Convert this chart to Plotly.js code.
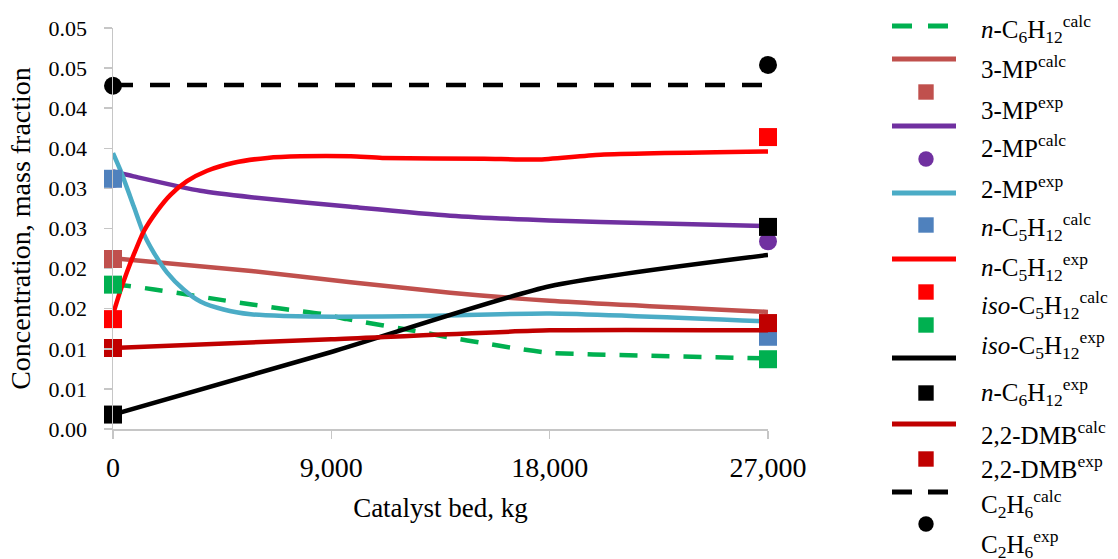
<!DOCTYPE html>
<html>
<head>
<meta charset="utf-8">
<script src="https://cdn.plot.ly/plotly-3.0.1.min.js"></script>
<style>
html,body{margin:0;padding:0;background:#fff;}
#chart{width:1118px;height:559px;}
</style>
</head>
<body>
<div id="chart"></div>
<script>
// ---------------- DATA ----------------
// n-C6H12 calc (green dashed)
const nC6calcX = [0, 470, 1700, 3000, 4450, 5800, 7200, 8700, 9650, 12500, 13900, 15300, 16700, 18000, 19800, 27000];
const nC6calcY = [0.0179, 0.0179, 0.0174, 0.0168, 0.0161, 0.0155, 0.0149, 0.0143, 0.0137, 0.0122, 0.0114, 0.0107, 0.0100, 0.0095, 0.0093, 0.0088];
// 3-MP calc (brown line)
const mp3calcX = [0, 5700, 9800, 13900, 18000, 27000];
const mp3calcY = [0.0213, 0.0197, 0.0183, 0.0170, 0.0160, 0.0146];
// 2-MP calc (purple line)
const mp2calcX = [0, 850, 3600, 5700, 9800, 13900, 18000, 20100, 27000];
const mp2calcY = [0.0321, 0.0315, 0.0297, 0.0289, 0.0277, 0.0266, 0.0260, 0.0258, 0.0253];
// cyan line
const cyanX = [0, 300, 850, 1260, 1680, 2230, 2910, 3600, 4560, 5680, 7040, 9100, 13000, 18000, 27000];
const cyanY = [0.0344, 0.0323, 0.0278, 0.0244, 0.0220, 0.0195, 0.0174, 0.0159, 0.0149, 0.0143, 0.0141, 0.0140, 0.0141, 0.0144, 0.0134];
// red line
const redX = [0, 300, 580, 850, 1260, 1820, 2370, 3050, 3880, 4980, 6360, 7730, 9800, 11100, 15300, 17500, 20100, 27000];
const redY = [0.0143, 0.0172, 0.0196, 0.0217, 0.0246, 0.0272, 0.0292, 0.0309, 0.0322, 0.0332, 0.0338, 0.0340, 0.0340, 0.0338, 0.0337, 0.0336, 0.0342, 0.0346];
// black line
const blackX = [0, 9000, 18000, 27000];
const blackY = [0.0018, 0.0096, 0.0178, 0.0217];
// 2,2-DMB calc (dark red line)
const dmbcalcX = [0, 9000, 18000, 27000];
const dmbcalcY = [0.0101, 0.0112, 0.0123, 0.0123];
// C2H6 calc (black dashed)
const c2calcX = [0, 27000];
const c2calcY = [0.0429, 0.0429];

// experimental points
const expX = [0, 27000];
const mp3exp = [0.0212, 0.0132];
const mp2exp = [0.0312, 0.0234];
const blueExp = [0.0312, 0.0115];
const redExp = [0.0137, 0.0364];
const greenExp = [0.0180, 0.0087];
const blackExp = [0.0018, 0.0252];
const dmbExp = [0.0101, 0.0132];
const c2exp = [0.0428, 0.0454];

// axes
const xTickVals = [0, 9000, 18000, 27000];
const xTickText = ['0', '9,000', '18,000', '27,000'];
const yTickVals = [0, 0.005, 0.01, 0.015, 0.02, 0.025, 0.03, 0.035, 0.04, 0.045, 0.05];
const yTickText = ['0.00', '0.01', '0.01', '0.02', '0.02', '0.03', '0.03', '0.04', '0.04', '0.05', '0.05'];

// legend texts (as in the source figure)
const legendLabels = [
  '<i>n</i>-C<sub>6</sub>H<sub>12</sub><sup>calc</sup>',
  '3-MP<sup>calc</sup>',
  '3-MP<sup>exp</sup>',
  '2-MP<sup>calc</sup>',
  '2-MP<sup>exp</sup>',
  '<i>n</i>-C<sub>5</sub>H<sub>12</sub><sup>calc</sup>',
  '<i>n</i>-C<sub>5</sub>H<sub>12</sub><sup>exp</sup>',
  '<i>iso</i>-C<sub>5</sub>H<sub>12</sub><sup>calc</sup>',
  '<i>iso</i>-C<sub>5</sub>H<sub>12</sub><sup>exp</sup>',
  '<i>n</i>-C<sub>6</sub>H<sub>12</sub><sup>exp</sup>',
  '2,2-DMB<sup>calc</sup>',
  '2,2-DMB<sup>exp</sup>',
  'C<sub>2</sub>H<sub>6</sub><sup>calc</sup>',
  'C<sub>2</sub>H<sub>6</sub><sup>exp</sup>'
];

// ---------------- STYLE ----------------
const C = {
  green: '#00B050', brown: '#C0504D', purple: '#7030A0', cyan: '#4BACC6',
  blue: '#4F81BD', red: '#FF0000', black: '#000000', dred: '#C00000'
};
const FONT = 'Liberation Serif';
const LW = 4.5, MS = 18;

function lineTrace(name, x, y, color, dash) {
  return {type: 'scatter', mode: 'lines', name: name, x: x, y: y, cliponaxis: false,
    line: {color: color, width: LW, shape: 'spline', smoothing: 0.6, dash: dash || 'solid'}};
}
function markTrace(name, x, y, color, symbol) {
  return {type: 'scatter', mode: 'markers', name: name, x: x, y: y, cliponaxis: false,
    marker: {color: color, size: MS, symbol: symbol || 'square', line: {width: 0}}};
}

const traces = [
  lineTrace('n-C6H12 calc', nC6calcX, nC6calcY, C.green, '18px,14px'),
  lineTrace('3-MP calc', mp3calcX, mp3calcY, C.brown),
  markTrace('3-MP exp', expX, mp3exp, C.brown),
  lineTrace('2-MP calc', mp2calcX, mp2calcY, C.purple),
  markTrace('2-MP exp', expX, mp2exp, C.purple, 'circle'),
  lineTrace('n-C5H12 calc', cyanX, cyanY, C.cyan),
  markTrace('n-C5H12 exp', expX, blueExp, C.blue),
  lineTrace('iso-C5H12 calc', redX, redY, C.red),
  markTrace('iso-C5H12 exp', expX, redExp, C.red),
  markTrace('n-C6H12 exp', expX, greenExp, C.green),
  lineTrace('total calc', blackX, blackY, C.black),
  markTrace('total exp', expX, blackExp, C.black),
  lineTrace('2,2-DMB calc', dmbcalcX, dmbcalcY, C.dred),
  markTrace('2,2-DMB exp', expX, dmbExp, C.dred),
  lineTrace('C2H6 calc', c2calcX, c2calcY, C.black, '20px,17px'),
  markTrace('C2H6 exp', expX, c2exp, C.black, 'circle')
];

// ---------------- custom legend (pixel layout) ----------------
const M = {l: 113, r: 350, t: 28, b: 130};
const PW = 1118 - M.l - M.r, PH = 559 - M.t - M.b;
const px = v => (v - M.l) / PW;
const py = v => (559 - M.b - v) / PH;

const legendSymbols = [
  {k: 'line', c: C.green, dash: '20px,16px'},
  {k: 'line', c: C.brown},
  {k: 'square', c: C.brown},
  {k: 'line', c: C.purple},
  {k: 'circle', c: C.purple},
  {k: 'line', c: C.cyan},
  {k: 'square', c: C.blue},
  {k: 'line', c: C.red},
  {k: 'square', c: C.red},
  {k: 'square', c: C.green},
  {k: 'line', c: C.black},
  {k: 'square', c: C.black},
  {k: 'line', c: C.dred},
  {k: 'square', c: C.dred},
  {k: 'line', c: C.black, dash: '20px,16px'},
  {k: 'circle', c: C.black}
];
const symY = [26, 59, 92, 126, 159, 193, 225, 259, 292, 325, 358, 393, 424, 459, 492, 524];
const labY = [37, 75, 116, 154, 195, 235, 275, 313, 353, 400, 441, 475, 512, 552];

const shapes = [];
legendSymbols.forEach((s, i) => {
  const y = symY[i];
  if (s.k === 'line') {
    shapes.push({type: 'line', xref: 'paper', yref: 'paper', x0: px(892), x1: px(956), y0: py(y), y1: py(y),
      line: {color: s.c, width: 5, dash: s.dash || 'solid'}});
  } else {
    const h = 7.7;
    shapes.push({type: s.k === 'circle' ? 'circle' : 'rect', xref: 'paper', yref: 'paper',
      x0: px(926 - h), x1: px(926 + h), y0: py(y + h), y1: py(y - h),
      fillcolor: s.c, line: {width: 0}});
  }
});

const annotations = legendLabels.map((t, i) => ({
  xref: 'paper', yref: 'paper', x: px(979), y: py(labY[i] - 8), xanchor: 'left', yanchor: 'middle',
  text: t, showarrow: false, font: {family: FONT, size: 25, color: '#000'}
}));

const layout = {
  width: 1118, height: 559,
  margin: M,
  paper_bgcolor: '#fff', plot_bgcolor: '#fff',
  showlegend: false,
  font: {family: FONT, color: '#000'},
  xaxis: {
    range: [0, 27000], tickvals: xTickVals, ticktext: xTickText,
    showline: true, linecolor: '#c6c6c6', linewidth: 1.5, mirror: false,
    ticks: 'outside', ticklen: 8, tickcolor: '#c6c6c6', tickwidth: 1.5,
    ticklabelstandoff: 5,
    showgrid: false, zeroline: false,
    tickfont: {family: FONT, size: 28, color: '#000'},
    title: {text: 'Catalyst bed, kg', font: {family: FONT, size: 27, color: '#000'}, standoff: 16}
  },
  yaxis: {
    range: [0, 0.05], tickvals: yTickVals, ticktext: yTickText,
    showline: true, linecolor: '#c6c6c6', linewidth: 1.5,
    ticks: 'outside', ticklen: 8, tickcolor: '#c6c6c6', tickwidth: 1.5,
    ticklabelstandoff: 12,
    showgrid: false, zeroline: false,
    tickfont: {family: FONT, size: 22, color: '#000'},
    title: {text: 'Concentration, mass fraction', font: {family: FONT, size: 28, color: '#000'}, standoff: 10}
  },
  shapes: shapes,
  annotations: annotations
};

Plotly.newPlot('chart', traces, layout, {displayModeBar: false, staticPlot: true});
</script>
</body>
</html>
